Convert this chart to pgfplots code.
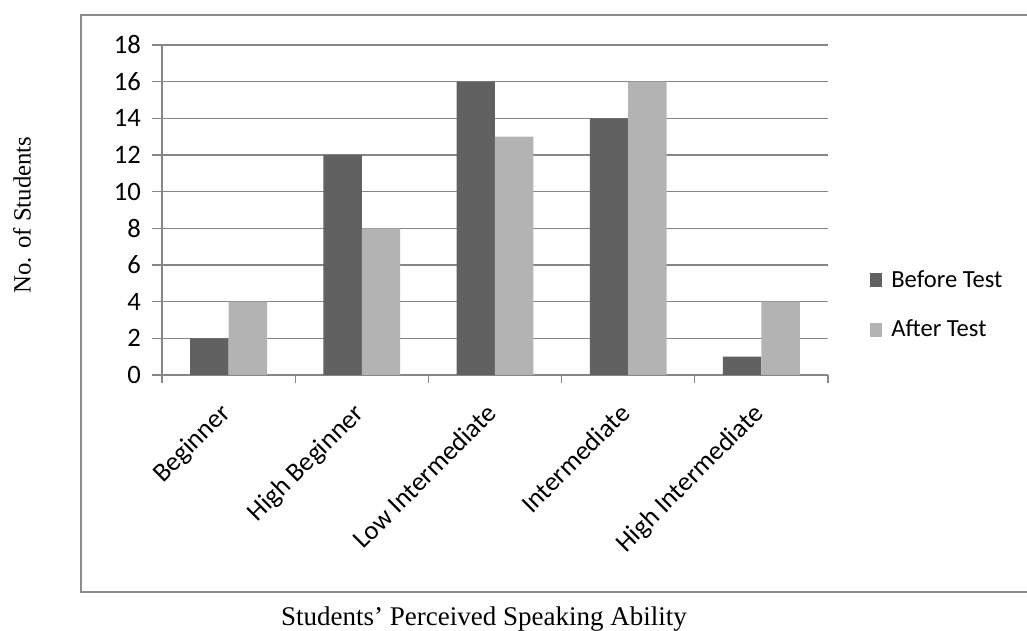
\documentclass[border=0pt]{standalone}
\usepackage{pgfplots}
\pgfplotsset{compat=1.18}
\usepackage{fontspec}
\setmainfont{Liberation Serif}
\newfontfamily\calibri{Carlito}
\definecolor{darkbar}{HTML}{616161}
\definecolor{lightbar}{HTML}{B3B3B3}
\definecolor{gridc}{HTML}{868686}
\definecolor{framec}{HTML}{8C8C8C}
\begin{document}
\begin{tikzpicture}
\useasboundingbox (0,0) rectangle (513.5pt,315.5pt);
% outer frame (no right edge visible)
\draw[framec, line width=1.4pt] (513.5pt,308pt) -- (40.5pt,308pt) -- (40.5pt,19.5pt) -- (513.5pt,19.5pt);
\begin{axis}[
  at={(81pt,128pt)}, anchor=south west,
  scale only axis, width=333pt, height=165pt,
  ybar, bar width=19.2pt,
  xmin=-0.5, xmax=4.5, ymin=0, ymax=18,
  ytick={0,2,...,18},
  xtick={0,1,2,3,4},
  xticklabels={Beginner,High Beginner,Low Intermediate,Intermediate,High Intermediate},
  minor xtick={-0.5,0.5,1.5,2.5,3.5,4.5},
  axis x line*=bottom, axis y line*=left,
  axis line style={gridc, line width=0.6pt},
  ymajorgrids, grid style={gridc, line width=0.6pt},
  tick align=outside,
  major tick length=5pt, minor tick length=4pt,
  x tick style={draw=none}, minor x tick style={draw=gridc, line width=0.6pt},
  y tick style={gridc, line width=0.6pt},
  tick label style={font=\calibri\fontsize{13.3}{15}\selectfont},
  /pgf/number format/assume math mode=true,
  yticklabel style={xshift=-2pt},
  xticklabel style={rotate=45, anchor=north east, yshift=1pt, xshift=-6pt},
  legend style={at={(1.054,0.212)}, anchor=west, draw=none, fill=none,
    font=\calibri\fontsize{12.3}{14}\selectfont, row sep=11pt,
    legend cell align=left},
  legend image code/.code={\fill[#1] (0pt,-3.5pt) rectangle (6pt,3.5pt); \path (8.5pt,0pt);},
]
\addplot[fill=darkbar, draw=none, bar shift=-9.6pt] coordinates {(0,2) (1,12) (2,16) (3,14) (4,1)};
\addplot[fill=lightbar, draw=none, bar shift=9.6pt] coordinates {(0,4) (1,8) (2,13) (3,16) (4,4)};
\legend{Before Test, After Test}
\end{axis}
\node[rotate=90, font=\fontsize{12.4}{14}\selectfont] at (11pt,208pt) {No. of Students};
\node[font=\fontsize{13.5}{15}\selectfont] at (242pt,6pt) {Students’ Perceived Speaking Ability};
\end{tikzpicture}
\end{document}
